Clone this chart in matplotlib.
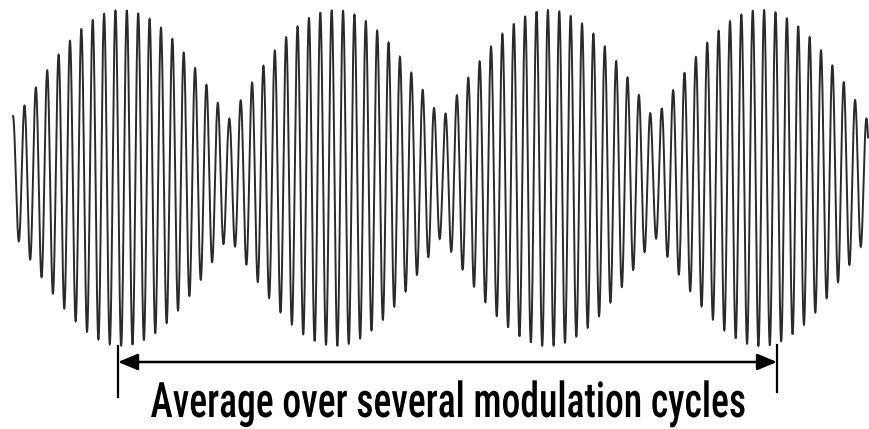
import numpy as np
import matplotlib
matplotlib.use("Agg")
import matplotlib.pyplot as plt
from matplotlib import font_manager as fm
from matplotlib import patheffects
from matplotlib.transforms import Affine2D
from matplotlib.patches import FancyArrowPatch

# ---- data (pixel units of the 870x429 image) ----
wave_start = 13.0          # left end of the waveform
wave_end = 868.0           # right end of the waveform
baseline = 178.0           # vertical centre of the waveform
env_max = 168.0            # envelope height at lobe peaks
env_min = 58.0             # envelope height at lobe necks
lobe_period = 213.0        # modulation period
lobe_peak_x = 122.0        # x of first envelope maximum
carrier_period = 11.38     # carrier period
carrier_peak_x = 206.5     # x of a carrier crest
label_text = "Average over several modulation cycles"
arrow_x = [118.0, 777.0]
arrow_y = 362.0

W, H = 870, 429
fig = plt.figure(figsize=(W / 100, H / 100), dpi=100)
ax = fig.add_axes([0, 0, 1, 1])
ax.set_xlim(0, W)
ax.set_ylim(H, 0)
ax.axis("off")

x = np.linspace(wave_start, wave_end, 40000)
env = env_min + (env_max - env_min) * np.abs(np.cos(np.pi * (x - lobe_peak_x) / lobe_period))
y = baseline - env * np.cos(2 * np.pi * (x - carrier_peak_x) / carrier_period)
ax.plot(x, y, color="#2a2a2a", lw=1.4, solid_joinstyle="miter")

# arrow and end ticks
arr = FancyArrowPatch((arrow_x[0], arrow_y), (arrow_x[1], arrow_y),
                      arrowstyle="<|-|>,head_length=12,head_width=5",
                      color="black", lw=1.8, shrinkA=0, shrinkB=0,
                      mutation_scale=1)
ax.add_patch(arr)
ax.plot([arrow_x[0], arrow_x[0]], [346, 397], color="black", lw=1.6)
ax.plot([arrow_x[1], arrow_x[1]], [345, 392], color="black", lw=1.6)


class Stretch(patheffects.AbstractPathEffect):
    def __init__(self, sx, sy, cx, cy):
        super().__init__()
        self.sx, self.sy, self.cx, self.cy = sx, sy, cx, cy

    def draw_path(self, renderer, gc, tpath, affine, rgbFace=None):
        a = affine + Affine2D().translate(-self.cx, -self.cy).scale(self.sx, self.sy).translate(self.cx, self.cy)
        renderer.draw_path(gc, tpath, a, rgbFace)


names = {f.name for f in fm.fontManager.ttflist}
fam = None
for cand in ["Liberation Sans Narrow", "Roboto Condensed", "Open Sans Condensed", "DejaVu Sans"]:
    if cand in names:
        fam = cand
        break
stretch = "condensed" if fam == "DejaVu Sans" else "normal"
text_x, text_base = 448.0, 417.0
t = ax.text(text_x, text_base, label_text, ha="center", va="baseline",
            fontsize=30, family=fam, fontstretch=stretch, color="black",
            fontweight="medium")
fig.canvas.draw()
bb = t.get_window_extent()
target_w = 595.0
t.set_fontsize(30 * target_w / bb.width)
# vertical stretch to match the tall condensed lettering
t.set_path_effects([Stretch(1.0, 1.3, text_x, H - text_base)])

fig.savefig("out.png", dpi=100, facecolor="white")
